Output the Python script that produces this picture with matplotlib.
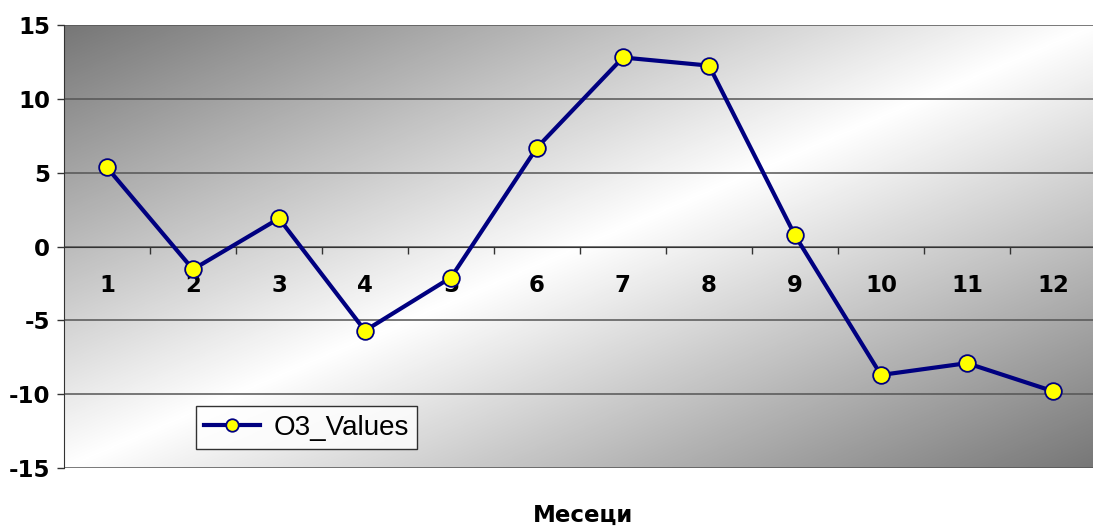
import numpy as np
import matplotlib.pyplot as plt
from matplotlib.colors import LinearSegmentedColormap

# monthly O3 values
months = [1, 2, 3, 4, 5, 6, 7, 8, 9, 10, 11, 12]
o3_values = [5.35, -1.55, 1.9, -5.7, -2.1, 6.7, 12.8, 12.25, 0.75, -8.7, -7.9, -9.8]
month_labels = [str(m) for m in months]
y_ticks = [-15, -10, -5, 0, 5, 10, 15]

plt.rcParams['font.family'] = ['Liberation Sans', 'DejaVu Sans']
bold_font = ['DejaVu Sans']

fig = plt.figure(figsize=(10.93, 5.29), dpi=100)
ax = fig.add_axes([64 / 1093, 61 / 529, 1032 / 1093, 443 / 529])

# diagonal gradient background: dark corners, white band in the middle
n = 400
xx, yy = np.meshgrid(np.linspace(0, 1, n), np.linspace(0, 1, n))
t = (xx + yy) / 2
shade = 1 - np.abs(t - 0.5) * 2
cmap = LinearSegmentedColormap.from_list('bg', ['#777777', '#ffffff'])
ax.imshow(shade, cmap=cmap, extent=[0.5, 12.5, -15, 15], aspect='auto',
          zorder=0, vmin=0, vmax=1, origin='upper')

ax.set_xlim(0.5, 12.5)
ax.set_ylim(-15, 15)

for yv in y_ticks:
    ax.axhline(yv, color='#555555', lw=1.1, zorder=1)

ax.plot(months, o3_values, color='#000080', lw=3, marker='o', markersize=12,
        markerfacecolor='#ffff00', markeredgecolor='#000080', markeredgewidth=1.3,
        label='O3_Values', zorder=3, clip_on=False)

ax.spines['top'].set_visible(False)
ax.spines['right'].set_visible(False)
ax.spines['left'].set_color('#333333')
ax.spines['bottom'].set_position(('data', 0))
ax.spines['bottom'].set_color('#333333')

ax.set_yticks(y_ticks)
ax.set_yticklabels([str(v) for v in y_ticks], fontsize=16.5, fontweight='bold',
                   family=bold_font)
ax.tick_params(axis='y', direction='out', length=5, width=1, color='#333333', pad=5)

ax.set_xticks(months)
ax.set_xticklabels(month_labels, fontsize=16.5, fontweight='bold', family=bold_font)
ax.set_xticks([m + 0.5 for m in months[:-1]], minor=True)
ax.tick_params(axis='x', which='major', length=0, pad=20)
ax.tick_params(axis='x', which='minor', direction='out', length=5, width=1, color='#333333')

fig.text(583 / 1093, 1 - 515 / 529, 'Месеци', fontsize=16.5, fontweight='bold',
         family=bold_font, ha='center', va='center')

leg = ax.legend(loc='lower left', bbox_to_anchor=(196 / 1093, 1 - 449 / 529),
                bbox_transform=fig.transFigure, fontsize=20, frameon=True,
                fancybox=False, handlelength=2.0, handletextpad=0.5,
                borderpad=0.3, borderaxespad=0, markerscale=0.75)
leg.get_frame().set_edgecolor('#000000')
leg.get_frame().set_linewidth(1)
leg.get_frame().set_facecolor('white')

fig.savefig('out.png', dpi=100)
